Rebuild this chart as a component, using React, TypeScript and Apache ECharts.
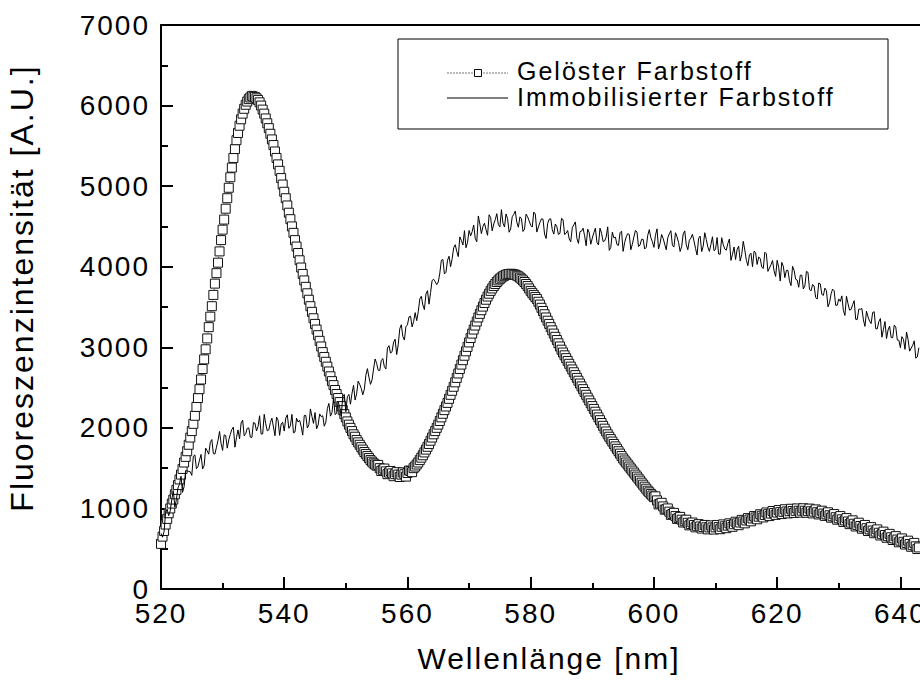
import React, { useEffect, useRef } from "react";
import * as echarts from "echarts";

// Wavelength grid of the measured spectra (nm)
const X_START = 520;
const X_STEP = 0.25;

// Axis ticks
const xTickLabels = [520, 540, 560, 580, 600, 620, 640];
const yTickLabels = [0, 1000, 2000, 3000, 4000, 5000, 6000, 7000];

// Gelöster Farbstoff (dissolved dye), 520 .. 643 nm, step 0.25 nm (one row per nm)
const geloest = [
  560, 650, 720, 800,
  870, 940, 1000, 1060,
  1110, 1175, 1230, 1290,
  1360, 1420, 1490, 1570,
  1640, 1710, 1790, 1880,
  1960, 2050, 2150, 2260,
  2370, 2480, 2600, 2730,
  2850, 2975, 3110, 3250,
  3380, 3510, 3650, 3790,
  3920, 4050, 4190, 4330,
  4460, 4585, 4720, 4850,
  4980, 5110, 5230, 5350,
  5460, 5570, 5660, 5750,
  5830, 5900, 5960, 6010,
  6050, 6080, 6100, 6120,
  6110, 6105, 6090, 6070,
  6040, 6000, 5950, 5900,
  5840, 5780, 5720, 5650,
  5580, 5510, 5430, 5350,
  5270, 5190, 5100, 5020,
  4930, 4850, 4760, 4670,
  4590, 4500, 4420, 4330,
  4250, 4170, 4080, 3990,
  3910, 3830, 3750, 3670,
  3590, 3510, 3440, 3360,
  3290, 3220, 3150, 3080,
  3010, 2940, 2880, 2820,
  2760, 2700, 2640, 2580,
  2530, 2470, 2420, 2370,
  2320, 2270, 2220, 2170,
  2130, 2080, 2040, 2000,
  1960, 1920, 1890, 1850,
  1820, 1790, 1760, 1730,
  1700, 1675, 1650, 1625,
  1600, 1580, 1560, 1545,
  1530, 1540, 1500, 1465,
  1480, 1495, 1460, 1425,
  1445, 1465, 1435, 1400,
  1425, 1450, 1420, 1390,
  1420, 1448, 1425, 1395,
  1440, 1470, 1465, 1450,
  1500, 1520, 1545, 1570,
  1600, 1630, 1660, 1695,
  1730, 1765, 1800, 1840,
  1880, 1920, 1960, 2000,
  2040, 2085, 2130, 2175,
  2220, 2265, 2310, 2360,
  2410, 2460, 2510, 2565,
  2620, 2675, 2730, 2785,
  2840, 2895, 2950, 3005,
  3060, 3115, 3170, 3220,
  3270, 3320, 3370, 3415,
  3460, 3505, 3550, 3590,
  3630, 3665, 3700, 3730,
  3760, 3785, 3810, 3830,
  3850, 3865, 3880, 3890,
  3900, 3905, 3910, 3912,
  3910, 3905, 3900, 3890,
  3880, 3865, 3850, 3830,
  3810, 3785, 3760, 3730,
  3700, 3675, 3650, 3625,
  3600, 3565, 3530, 3490,
  3450, 3410, 3370, 3330,
  3290, 3250, 3210, 3170,
  3130, 3090, 3050, 3010,
  2970, 2935, 2900, 2865,
  2830, 2795, 2760, 2725,
  2690, 2655, 2620, 2585,
  2550, 2515, 2480, 2445,
  2410, 2375, 2340, 2305,
  2270, 2235, 2200, 2165,
  2130, 2095, 2060, 2025,
  1990, 1955, 1920, 1890,
  1860, 1830, 1800, 1770,
  1740, 1710, 1680, 1650,
  1620, 1595, 1570, 1545,
  1520, 1495, 1470, 1445,
  1420, 1395, 1370, 1345,
  1320, 1295, 1270, 1245,
  1220, 1200, 1180, 1160,
  1140, 1150, 1100, 1050,
  1060, 1070, 1025, 985,
  990, 1000, 960, 920,
  930, 945, 905, 870,
  880, 895, 860, 825,
  840, 860, 822, 790,
  806, 825, 794, 765,
  784, 805, 776, 750,
  770, 795, 766, 740,
  764, 790, 764, 738,
  765, 795, 768, 742,
  772, 802, 778, 755,
  786, 815, 795, 772,
  804, 835, 814, 792,
  825, 858, 837, 815,
  850, 880, 862, 840,
  875, 905, 887, 865,
  898, 928, 909, 888,
  919, 950, 928, 905,
  936, 968, 943, 920,
  949, 980, 954, 930,
  958, 990, 962, 938,
  965, 996, 968, 944,
  970, 1000, 971, 948,
  972, 1002, 971, 946,
  969, 998, 965, 938,
  960, 988, 953, 925,
  945, 972, 936, 907,
  926, 952, 915, 885,
  903, 930, 891, 860,
  878, 905, 865, 832,
  852, 880, 838, 805,
  824, 852, 810, 776,
  796, 823, 782, 748,
  768, 795, 754, 720,
  740, 768, 726, 692,
  712, 740, 698, 664,
  684, 712, 670, 636,
  656, 684, 642, 608,
  628, 656, 614, 580,
  600, 628, 586, 552,
  572, 600, 558, 524,
  544, 572, 530, 496,
  516,
];

// Immobilisierter Farbstoff (immobilised dye), 520 .. 643 nm, step 0.25 nm (one row per nm)
const immobilisiert = [
  690, 643, 715, 948,
  990, 910, 970, 1110,
  1220, 1015, 1110, 1255,
  1300, 1400, 1200, 1270,
  1470, 1465, 1460, 1455,
  1410, 1648, 1665, 1493,
  1520, 1600, 1670, 1490,
  1530, 1748, 1715, 1673,
  1820, 1855, 1680, 1675,
  1760, 1843, 1955, 1808,
  1720, 1913, 1905, 1748,
  1850, 1920, 1980, 2010,
  1760, 1878, 1975, 1863,
  2060, 2096, 1902, 1929,
  1995, 2000, 1885, 1880,
  2065, 2059, 1962, 2016,
  2150, 1923, 1925, 2168,
  2050, 1963, 1975, 2068,
  2120, 2011, 1902, 2134,
  2095, 1907, 2048, 2069,
  1960, 2121, 2162, 1994,
  2025, 2167, 1938, 1949,
  2120, 2073, 2095, 2018,
  1910, 2153, 2155, 1998,
  2040, 2235, 2140, 2055,
  2190, 1988, 2035, 2173,
  2140, 2150, 2020, 2070,
  2240, 2303, 2145, 2188,
  2370, 2165, 2180, 2325,
  2260, 2145, 2390, 2415,
  2200, 2388, 2415, 2293,
  2430, 2528, 2345, 2423,
  2580, 2540, 2490, 2410,
  2480, 2653, 2735, 2628,
  2540, 2595, 2730, 2855,
  2800, 2715, 2710, 2835,
  2860, 2760, 2730, 2990,
  3020, 2928, 2945, 3063,
  3100, 2910, 3030, 3230,
  3280, 3135, 3090, 3255,
  3280, 3378, 3385, 3253,
  3320, 3430, 3330, 3440,
  3600, 3633, 3525, 3468,
  3660, 3703, 3535, 3678,
  3830, 3843, 3815, 3778,
  3810, 3920, 4080, 4090,
  3910, 3930, 4080, 4130,
  4000, 4098, 4235, 4273,
  4190, 4125, 4370, 4325,
  4270, 4448, 4235, 4303,
  4450, 4383, 4435, 4518,
  4350, 4310, 4630, 4530,
  4410, 4500, 4540, 4460,
  4390, 4645, 4610, 4445,
  4530, 4584, 4658, 4522,
  4495, 4708, 4540, 4493,
  4655, 4597, 4428, 4469,
  4620, 4650, 4690, 4550,
  4490, 4619, 4598, 4437,
  4465, 4653, 4620, 4568,
  4515, 4492, 4678, 4654,
  4430, 4495, 4550, 4595,
  4590, 4405, 4350, 4535,
  4590, 4595, 4460, 4405,
  4530, 4495, 4400, 4415,
  4600, 4585, 4400, 4415,
  4450, 4345, 4310, 4485,
  4520, 4556, 4352, 4289,
  4435, 4442, 4478, 4384,
  4260, 4466, 4422, 4279,
  4355, 4422, 4478, 4304,
  4270, 4478, 4415, 4313,
  4320, 4368, 4495, 4203,
  4240, 4429, 4358, 4367,
  4275, 4264, 4422, 4441,
  4190, 4300, 4370, 4410,
  4400, 4210, 4280, 4370,
  4450, 4430, 4250, 4270,
  4340, 4340, 4220, 4240,
  4390, 4460, 4360, 4310,
  4240, 4390, 4470, 4220,
  4290, 4400, 4350, 4280,
  4210, 4359, 4408, 4447,
  4265, 4244, 4422, 4371,
  4300, 4189, 4248, 4407,
  4445, 4273, 4210, 4328,
  4355, 4403, 4320, 4228,
  4145, 4353, 4380, 4188,
  4255, 4422, 4338, 4244,
  4190, 4276, 4372, 4199,
  4215, 4362, 4158, 4154,
  4360, 4275, 4220, 4205,
  4290, 4344, 4078, 4152,
  4245, 4089, 4212, 4256,
  4070, 4153, 4315, 4208,
  4080, 4013, 4145, 4168,
  4000, 4193, 4175, 4028,
  4120, 4103, 3995, 3978,
  4180, 4161, 3942, 3984,
  4025, 4077, 3948, 3879,
  4080, 3991, 3822, 4054,
  4005, 3865, 3955, 3955,
  3825, 3765, 4005, 3955,
  3845, 3835, 3745, 3895,
  3895, 3724, 3762, 3941,
  3930, 3720, 3700, 3780,
  3760, 3619, 3598, 3798,
  3787, 3656, 3645, 3734,
  3703, 3503, 3553, 3663,
  3722, 3702, 3521, 3521,
  3600, 3569, 3638, 3457,
  3395, 3634, 3542, 3461,
  3470, 3529, 3578, 3347,
  3345, 3474, 3472, 3481,
  3340, 3259, 3448, 3377,
  3325, 3294, 3432, 3441,
  3230, 3229, 3318, 3357,
  3125, 3223, 3320, 3108,
  3215, 3263, 3120, 3118,
  3275, 3253, 3090, 3088,
  2995, 3132, 3098, 2974,
  3190, 3096, 2952, 2989,
  3025, 3080, 2865, 2880,
  2995,
];

const seriesNames = ["Gelöster Farbstoff", "Immobilisierter Farbstoff"];
const xTitle = "Wellenlänge [nm]";
const yTitle = "Fluoreszenzintensität [A.U.]";

const FONT = '"Liberation Sans", Arial, Helvetica, sans-serif';

export default function App() {
  const ref = useRef<HTMLDivElement>(null);

  useEffect(() => {
    document.body.style.margin = "0";
    document.body.style.overflow = "hidden";
    if (!ref.current) return;
    const chart = echarts.init(ref.current, null, { renderer: "svg" });

    const toPairs = (arr: number[]) => arr.map((v, i) => [X_START + i * X_STEP, v]);

    const axisLineStyle = { color: "#000", width: 2 };

    chart.setOption({
      animation: false,
      backgroundColor: "#ffffff",
      textStyle: { fontFamily: FONT, color: "#000" },
      grid: { left: 161, top: 25, width: 801, height: 564, containLabel: false },
      xAxis: [
        {
          type: "value",
          min: 520,
          max: 650,
          interval: 20,
          position: "bottom",
          axisLine: { show: true, onZero: false, lineStyle: axisLineStyle },
          axisTick: { show: true, inside: true, length: 12, lineStyle: axisLineStyle },
          minorTick: { show: true, splitNumber: 2, length: 6, lineStyle: axisLineStyle },
          splitLine: { show: false },
          minorSplitLine: { show: false },
          axisLabel: {
            show: true,
            fontSize: 28,
            fontFamily: FONT,
            color: "#000",
            margin: 10,
            showMaxLabel: false,
            formatter: (v: number) => (xTickLabels.includes(v) ? String(v) : ""),
          },
        },
        {
          type: "value",
          min: 520,
          max: 650,
          position: "top",
          axisLine: { show: true, onZero: false, lineStyle: axisLineStyle },
          axisTick: { show: false },
          axisLabel: { show: false },
          splitLine: { show: false },
        },
      ],
      yAxis: {
        type: "value",
        min: 0,
        max: 7000,
        interval: 1000,
        axisLine: { show: true, onZero: false, lineStyle: axisLineStyle },
        axisTick: { show: true, inside: true, length: 12, lineStyle: axisLineStyle },
        minorTick: { show: true, splitNumber: 2, length: 7, lineStyle: axisLineStyle },
        splitLine: { show: false },
        axisLabel: {
          fontSize: 28,
          fontFamily: FONT,
          color: "#000",
          margin: 11,
          formatter: (v: number) => (yTickLabels.includes(v) ? String(v) : ""),
        },
      },
      series: [
        {
          name: seriesNames[0],
          type: "line",
          xAxisIndex: 0,
          data: toPairs(geloest),
          symbol: "rect",
          symbolSize: 9,
          showSymbol: true,
          showAllSymbol: true,
          itemStyle: { color: "#ffffff", borderColor: "#111", borderWidth: 1 },
          lineStyle: { color: "#444", width: 1, type: "dotted" },
          z: 2,
        },
        {
          name: seriesNames[1],
          type: "line",
          xAxisIndex: 0,
          data: toPairs(immobilisiert),
          showSymbol: false,
          symbol: "none",
          lineStyle: { color: "#000", width: 1 },
          z: 3,
        },
      ],
      graphic: [
        {
          type: "text",
          x: 22,
          y: 288,
          rotation: Math.PI / 2,
          style: {
            text: yTitle,
            fontSize: 32,
            fontFamily: FONT,
            fill: "#000",
            align: "center",
            verticalAlign: "middle",
          },
        },
        {
          type: "text",
          x: 549,
          y: 658,
          style: {
            text: xTitle,
            fontSize: 30,
            fontFamily: FONT,
            fill: "#000",
            align: "center",
            verticalAlign: "middle",
          },
        },
        {
          type: "group",
          z: 100,
          children: [
            {
              type: "rect",
              shape: { x: 398, y: 39, width: 490, height: 90 },
              style: { fill: "#ffffff", stroke: "#000", lineWidth: 1 },
            },
            {
              type: "line",
              shape: { x1: 447, y1: 73, x2: 508, y2: 73 },
              style: { stroke: "#777", lineWidth: 1, lineDash: [2, 1] },
            },
            {
              type: "rect",
              shape: { x: 474.5, y: 69.5, width: 7, height: 7 },
              style: { fill: "#ffffff", stroke: "#000", lineWidth: 1 },
            },
            {
              type: "text",
              x: 517,
              y: 71,
              style: {
                text: seriesNames[0],
                fontSize: 25,
                fontFamily: FONT,
                fill: "#000",
                align: "left",
                verticalAlign: "middle",
              },
            },
            {
              type: "line",
              shape: { x1: 447, y1: 98, x2: 508, y2: 98 },
              style: { stroke: "#000", lineWidth: 1 },
            },
            {
              type: "text",
              x: 517,
              y: 96.5,
              style: {
                text: seriesNames[1],
                fontSize: 25,
                fontFamily: FONT,
                fill: "#000",
                align: "left",
                verticalAlign: "middle",
              },
            },
          ],
        },
      ],
    });

    return () => chart.dispose();
  }, []);

  return (
    <div style={{ width: 920, height: 684, overflow: "hidden", position: "relative" }}>
      <style>{`.spec-chart text { letter-spacing: 2px; }`}</style>
      <div ref={ref} className="spec-chart" style={{ width: 1000, height: 684 }} />
    </div>
  );
}
